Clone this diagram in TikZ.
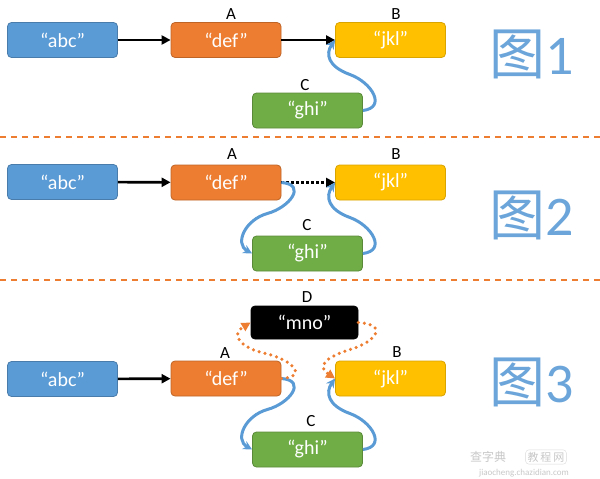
\documentclass[tikz,border=0pt]{standalone}
\usepackage{fontspec}
\setmainfont{Carlito}
\newfontfamily\cjk{Noto Sans CJK SC}
\usetikzlibrary{arrows.meta,calc}
\definecolor{cblue}{HTML}{5B9BD5}
\definecolor{corange}{HTML}{ED7D31}
\definecolor{cyellow}{HTML}{FFC000}
\definecolor{cgreen}{HTML}{70AD47}
\begin{document}
\begin{tikzpicture}[x=1pt,y=-1pt,
  box/.style={rounded corners=4pt, minimum width=110pt, minimum height=35pt, line width=0.8pt,
    text=white, inner sep=0pt, font=\fontsize{20}{22}\selectfont},
  bbox/.style={box, fill=cblue, draw=cblue!80!black},
  obox/.style={box, fill=corange, draw=corange!80!black},
  ybox/.style={box, fill=cyellow, draw=cyellow!85!black},
  gbox/.style={box, fill=cgreen, draw=cgreen!80!black},
  kbox/.style={box, fill=black, draw=black, minimum width=107pt, minimum height=33pt},
  lbl/.style={font=\fontsize{17}{19}\selectfont, inner sep=0pt},
  fig/.style={text=cblue!90, font=\fontsize{56}{60}\selectfont, inner sep=0pt},
  sep/.style={corange, line width=2pt, dash pattern=on 6pt off 5pt},
  link/.style={black, line width=2.6pt, -{Triangle[length=9pt,width=9pt]}},
  dlink/.style={link, dash pattern=on 2.5pt off 2.5pt},
  bcurve/.style={cblue, line width=3pt, -{Stealth[length=9pt,width=9pt]}},
  ocurve/.style={corange, line width=3.5pt, line cap=round, dash pattern=on 0pt off 6pt,
    -{Triangle[length=9pt,width=9pt]}},
  wm/.style={text=black!22, inner sep=0pt}
]
\useasboundingbox (0,0) rectangle (600,479);

% separators
\coordinate (s1l) at (0,137); \coordinate (s1r) at (600,137);
\coordinate (s2l) at (0,280); \coordinate (s2r) at (600,280);
\draw[sep] (s1l) -- (s1r);
\draw[sep] (s2l) -- (s2r);

% ---------- Figure 1 ----------
\node[bbox] (abc1) at (62.5,40) {“abc”};
\node[obox] (def1) at (226,40) {“def”};
\node[ybox] (jkl1) at (390.5,40) {“jkl”};
\node[gbox] (ghi1) at (307.5,110.5) {“ghi”};
\node[lbl] (A1) at (231,14) {A};
\node[lbl] (B1) at (396,14) {B};
\node[lbl] (C1) at (305,85) {C};
\draw[link] (abc1) -- (def1);
\draw[link] (def1) -- (jkl1);
\draw[bcurve] (ghi1.east) .. controls +(24,-3) and +(22,8) .. ($(ghi1.east)+(-13,-36)$)
   .. controls +(-22,-8) and +(-10,14) .. (jkl1.west);
\node[fig] (F1) at (532,54) {{\cjk 图}1};

% ---------- Figure 2 ----------
\node[bbox] (abc2) at (62.5,182) {“abc”};
\node[obox] (def2) at (226,182.5) {“def”};
\node[ybox] (jkl2) at (390.5,182.5) {“jkl”};
\node[gbox] (ghi2) at (307.5,253.5) {“ghi”};
\node[lbl] (A2) at (232,154) {A};
\node[lbl] (B2) at (396,154) {B};
\node[lbl] (C2) at (307,225) {C};
\draw[link] (abc2) -- (def2);
\draw[dlink] (def2) -- (jkl2);
\draw[bcurve] (def2.east) .. controls +(26,2) and +(22,-6) .. ($(def2.east)+(-14,31)$)
   .. controls +(-22,6) and +(-18,-10) .. (ghi2.west);
\draw[bcurve] (ghi2.east) .. controls +(24,-3) and +(22,8) .. ($(ghi2.east)+(-13,-36)$)
   .. controls +(-22,-8) and +(-10,14) .. (jkl2.west);
\node[fig] (F2) at (532,215) {{\cjk 图}2};

% ---------- Figure 3 ----------
\node[bbox] (abc3) at (62.5,379) {“abc”};
\node[obox] (def3) at (226,378.5) {“def”};
\node[ybox] (jkl3) at (390.5,378.5) {“jkl”};
\node[gbox] (ghi3) at (307.5,449.5) {“ghi”};
\node[kbox] (mno3) at (304.5,322.5) {“mno”};
\node[lbl] (D3) at (307,297) {D};
\node[lbl] (A3) at (225,353) {A};
\node[lbl] (B3) at (397,352) {B};
\node[lbl] (C3) at (311,421) {C};
\draw[link] (abc3) -- (def3);
\draw[bcurve] (def3.east) .. controls +(26,2) and +(22,-6) .. ($(def3.east)+(-14,31)$)
   .. controls +(-22,6) and +(-18,-10) .. (ghi3.west);
\draw[bcurve] (ghi3.east) .. controls +(24,-3) and +(22,8) .. ($(ghi3.east)+(-13,-36)$)
   .. controls +(-22,-8) and +(-10,14) .. (jkl3.west);
\draw[ocurve] (def3.east) .. controls +(28,-2) and +(26,6) .. ($(def3.east)+(-16,-25)$)
   .. controls +(-26,-6) and +(-20,12) .. (mno3.west);
\draw[ocurve] (mno3.east) .. controls +(30,2) and +(26,-8) .. ($(mno3.east)+(-8,27)$)
   .. controls +(-26,8) and +(-18,-12) .. (jkl3.west);
\node[fig] (F3) at (532,382) {{\cjk 图}3};

% watermark
\node[wm, font=\cjk\fontsize{12}{12}\selectfont] (w1) at (488,457) {查字典};
\node[wm, draw=black!15, rounded corners=3pt, inner sep=2pt, font=\cjk\fontsize{11}{11}\selectfont] (w2) at (546,457) {教\,程\,网};
\node[wm, font=\fontsize{9}{9}\selectfont] (w3) at (524,473) {jiaocheng.chazidian.com};
\end{tikzpicture}
\end{document}
